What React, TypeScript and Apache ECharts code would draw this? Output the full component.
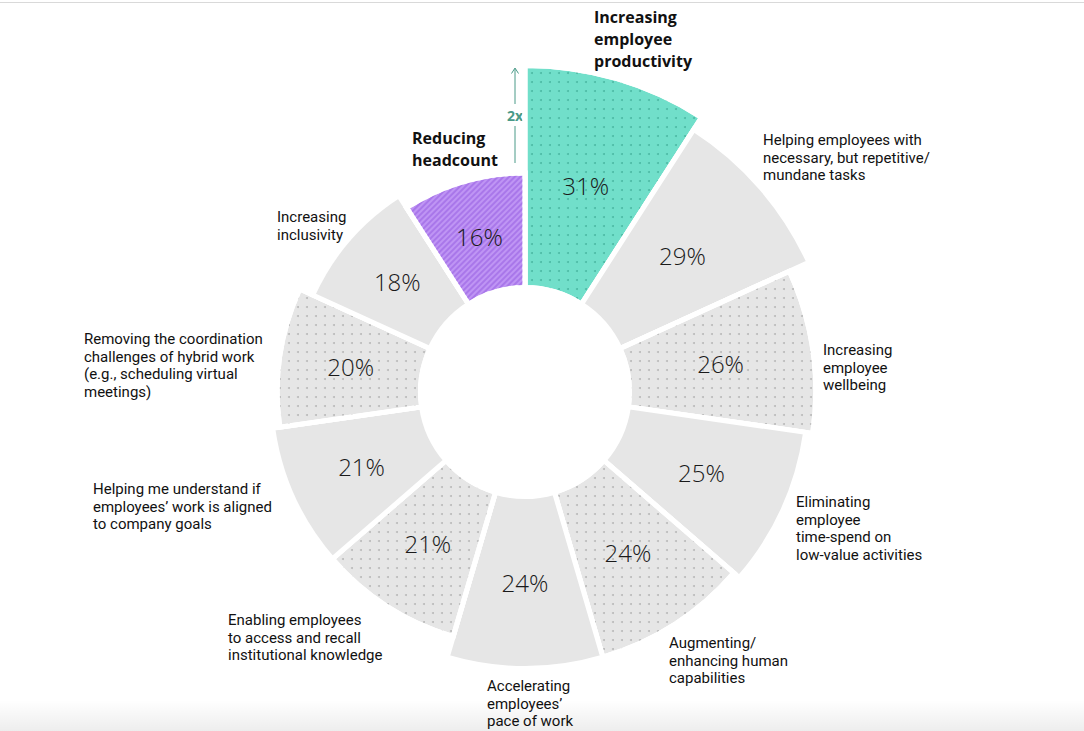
import React, { useEffect, useRef } from "react";
import * as echarts from "echarts";

const categories: string[] = [
  "Increasing\nemployee\nproductivity",
  "Helping employees with\nnecessary, but repetitive/\nmundane tasks",
  "Increasing\nemployee\nwellbeing",
  "Eliminating\nemployee\ntime-spend on\nlow-value activities",
  "Augmenting/\nenhancing human\ncapabilities",
  "Accelerating\nemployees’\npace of work",
  "Enabling employees\nto access and recall\ninstitutional knowledge",
  "Helping me understand if\nemployees’ work is aligned\nto company goals",
  "Removing the coordination\nchallenges of hybrid work\n(e.g., scheduling virtual\nmeetings)",
  "Increasing\ninclusivity",
  "Reducing\nheadcount",
];

const values: number[] = [31, 29, 26, 25, 24, 24, 21, 21, 20, 18, 16];

// layout of the outer category labels (left, top)
const labelPos: [number, number][] = [
  [594, 6],
  [763, 131],
  [823, 341],
  [796, 493],
  [669, 634],
  [487, 677],
  [228, 611],
  [93, 480],
  [84, 330],
  [277, 208],
  [412, 127],
];
const boldLabels = [0, 10];

const FONT = '"Open Sans", "Noto Sans", sans-serif';
const LABEL_FONT = 'Roboto, "Open Sans", sans-serif';

const GRAY = "#E6E6E6";
const TEAL = "#71DFCA";
const PURPLE = "#BF95F4";

const dotDecal = (color: string) => ({
  symbol: "circle",
  symbolSize: 1,
  color,
  dashArrayX: [1.6, 6.4],
  dashArrayY: [1.6, 6.4],
  rotation: 0,
});

const hatchDecal = {
  symbol: "rect",
  symbolSize: 1,
  color: "rgba(150,95,225,0.55)",
  dashArrayX: [1, 0],
  dashArrayY: [1.2, 1.8],
  rotation: -Math.PI / 4,
};

export default function App() {
  const ref = useRef<HTMLDivElement>(null);
  useEffect(() => {
    document.body.style.margin = "0";
    const chart = echarts.init(ref.current!, null, { renderer: "svg" });

    const data = values.map((v, i) => {
      let itemStyle: any = { color: GRAY };
      if (i === 0) itemStyle = { color: TEAL, decal: dotDecal("rgba(40,150,128,0.5)") };
      else if (i === values.length - 1) itemStyle = { color: PURPLE, decal: hatchDecal };
      else if (i % 2 === 0) itemStyle = { color: GRAY, decal: dotDecal("rgba(150,150,150,0.55)") };
      return { value: v, itemStyle };
    });

    const texts: any[] = categories.map((c, i) => {
      const bold = boldLabels.includes(i);
      return {
        type: "text",
        x: labelPos[i][0],
        y: labelPos[i][1],
        style: {
          text: c,
          fill: "#111",
          font: bold ? `bold 16px ${FONT}` : `normal 15px ${LABEL_FONT}`,
          lineHeight: bold ? 22 : 17.7,
          verticalAlign: "top",
          align: "left",
        },
      };
    });

    const arrowColor = "#4A9A88";
    const graphics: any[] = [
      {
        type: "line",
        shape: { x1: 0, y1: 2.5, x2: 1084, y2: 2.5 },
        style: { stroke: "#d9d9d9", lineWidth: 1 },
      },
      {
        type: "rect",
        shape: { x: 0, y: 700, width: 1084, height: 31 },
        style: {
          fill: new echarts.graphic.LinearGradient(0, 0, 0, 1, [
            { offset: 0, color: "rgba(0,0,0,0)" },
            { offset: 1, color: "rgba(0,0,0,0.07)" },
          ]),
        },
        silent: true,
        z: 100,
      },
      {
        type: "line",
        shape: { x1: 515, y1: 69, x2: 515, y2: 104 },
        style: { stroke: arrowColor, lineWidth: 1 },
      },
      {
        type: "line",
        shape: { x1: 515, y1: 126, x2: 515, y2: 163 },
        style: { stroke: arrowColor, lineWidth: 1 },
      },
      {
        type: "polyline",
        shape: { points: [[511.5, 73.5], [515, 68], [518.5, 73.5]] },
        style: { stroke: arrowColor, lineWidth: 1, fill: "none" },
      },
      {
        type: "text",
        x: 515,
        y: 115,
        style: {
          text: "2x",
          fill: arrowColor,
          font: `bold 14px ${FONT}`,
          align: "center",
          verticalAlign: "middle",
        },
      },
      ...texts,
    ];

    chart.setOption({
      animation: false,
      backgroundColor: "#fff",
      polar: { center: [525, 392], radius: [104.5, 326.5] },
      angleAxis: {
        type: "category",
        data: categories,
        startAngle: 90,
        clockwise: true,
        show: false,
      },
      radiusAxis: { type: "value", min: 0, max: 31, show: false },
      series: [
        {
          type: "bar",
          coordinateSystem: "polar",
          barCategoryGap: "0%",
          data,
          itemStyle: { borderColor: "#fff", borderWidth: 5 },
          label: {
            show: true,
            position: "middle",
            rotate: 0,
            formatter: "{c}%",
            fontFamily: FONT,
            fontWeight: 300,
            fontSize: 24,
            color: "#1a1a1a",
          },
          emphasis: { disabled: true },
        },
      ],
      graphic: graphics,
    });
    return () => chart.dispose();
  }, []);
  return <div ref={ref} style={{ width: 1084, height: 731 }} />;
}
